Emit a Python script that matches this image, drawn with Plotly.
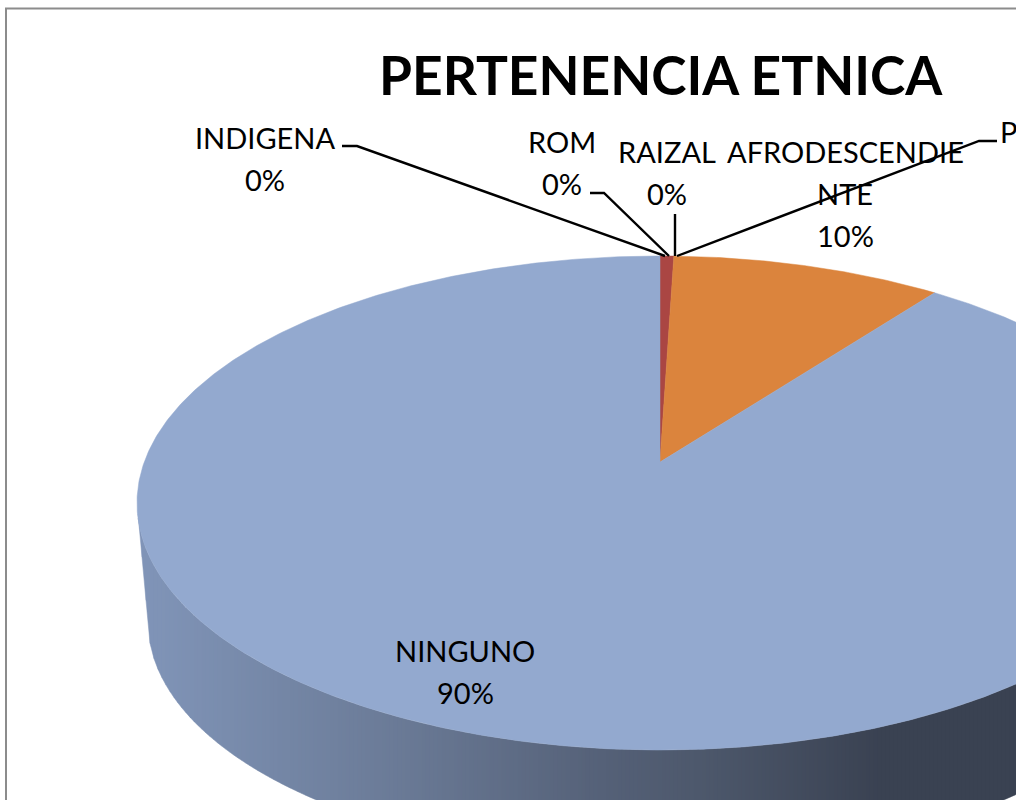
import numpy as np
import plotly.graph_objects as go

# slices, clockwise from 12 o'clock
categories = ["INDIGENA", "ROM", "RAIZAL", "AFRODESCENDIENTE", "P", "NINGUNO"]
values = [0.0, 0.5, 0.0, 9.8, 0.0, 89.7]
colors = ["#4572a7", "#aa4643", "#89a54e", "#db843d", "#4198af", "#93a9cf"]

title = "PERTENENCIA ETNICA"

# wrapped label lines as Excel broke them, pct line added from values
label_lines = [["INDIGENA"], ["ROM"], ["RAIZAL"], ["AFRODESCENDIE", "NTE"], ["P"], ["NINGUNO"]]
label_x = [265, 562, 667, 845, 998, 465]
label_y = [137, 141, 151, 151, 131, 650]
label_anchor = ["center", "center", "center", "center", "left", "center"]

leader_x = [[342, 357, 665], [590, 604, 669], [675, 675], [997, 979, 677]]
leader_y = [[146, 146, 256], [193, 193, 256], [214, 256], [141, 141, 256]]

# tilted pie geometry, px
CX, CY, RX, RY = 660, 503, 523, 247
LOW_CY, LOW_RX, LOW_RY = 622, 512, 240
APEX_K = 0.166  # perspective shift of pie centre, as fraction of RY
LINE_GAP = 42

side_stops = [137, 160, 400, 600, 700, 880, 1016]
side_r = [128, 127, 106, 85, 77, 58, 58]
side_g = [148, 147, 122, 97, 88, 66, 66]
side_b = [184, 182, 150, 120, 108, 82, 82]


def rim(theta):
    # circle point pushed through the perspective map
    s, c = np.sin(theta), np.cos(theta)
    d = 1 + APEX_K * c
    u = s * np.sqrt(1 - APEX_K**2) / d
    v = (c + APEX_K) / d
    return CX + RX * u, CY - RY * v


fig = go.Figure()

# side wall, vertical strips for the gradient
edges = np.arange(138, 1019, 4)
for x0, x1 in zip(edges[:-1], edges[1:]):
    xs = np.linspace(x0, x1, 3)
    top = CY + RY * np.sqrt(np.clip(1 - ((xs - CX) / RX) ** 2, 0, 1))
    low_in = np.clip(1 - ((xs - CX) / LOW_RX) ** 2, 0, 1)
    bottom = LOW_CY + LOW_RY * np.sqrt(low_in)
    bottom = np.where(xs < CX - LOW_RX, CY + (xs - CX + RX) / (RX - LOW_RX) * (LOW_CY - CY), bottom)
    mid = (x0 + x1) / 2
    col = "rgb({:.0f},{:.0f},{:.0f})".format(
        np.interp(mid, side_stops, side_r), np.interp(mid, side_stops, side_g), np.interp(mid, side_stops, side_b)
    )
    fig.add_trace(
        go.Scatter(
            x=np.concatenate([xs, xs[::-1]]),
            y=np.concatenate([top, bottom[::-1]]),
            mode="lines",
            fill="toself",
            fillcolor=col,
            line=dict(color=col, width=0.5),
            hoverinfo="skip",
            showlegend=False,
        )
    )

# top face
apex_x, apex_y = CX, CY - RY * APEX_K
start = 0.0
for cat, val, col in zip(categories, values, colors):
    if val > 0:
        theta = np.linspace(start, start + val / 100 * 2 * np.pi, max(int(val * 8), 8))
        px, py = rim(theta)
        fig.add_trace(
            go.Scatter(
                x=np.concatenate([[apex_x], px, [apex_x]]),
                y=np.concatenate([[apex_y], py, [apex_y]]),
                mode="lines",
                fill="toself",
                fillcolor=col,
                line=dict(color=col, width=0.5),
                name=cat,
                showlegend=False,
            )
        )
    start += val / 100 * 2 * np.pi

for lx, ly in zip(leader_x, leader_y):
    fig.add_trace(
        go.Scatter(x=lx, y=ly, mode="lines", line=dict(color="#000000", width=2.4), hoverinfo="skip", showlegend=False)
    )

annotations = [
    dict(
        x=660.5,
        y=74,
        text=f"<b>{title}</b>",
        showarrow=False,
        font=dict(family="Lato", size=53.3, color="#000000"),
    )
]
for lines, val, x, y, anchor in zip(label_lines, values, label_x, label_y, label_anchor):
    for i, line in enumerate(lines + [f"{val:.0f}%"]):
        # the pct line of the cropped label falls off the page
        if anchor == "left" and i > 0:
            continue
        annotations.append(
            dict(
                x=x,
                y=y + i * LINE_GAP,
                text=line,
                showarrow=False,
                xanchor=anchor,
                font=dict(family="Lato", size=29, color="#000000"),
            )
        )

fig.update_layout(
    width=1016,
    height=800,
    margin=dict(l=0, r=0, t=0, b=0),
    paper_bgcolor="#ffffff",
    plot_bgcolor="#ffffff",
    xaxis=dict(range=[0, 1016], visible=False, fixedrange=True),
    yaxis=dict(range=[800, 0], visible=False, fixedrange=True),
    annotations=annotations,
    shapes=[
        dict(type="rect", x0=6, y0=8.5, x1=1100, y1=900, line=dict(color="#8c8c8c", width=2), layer="above")
    ],
)

# body margin off so the figure sits flush in the window
fig.write_html(
    "out.html",
    config={"displayModeBar": False},
    post_script="document.body.style.margin='0';document.body.style.overflow='hidden';",
)
